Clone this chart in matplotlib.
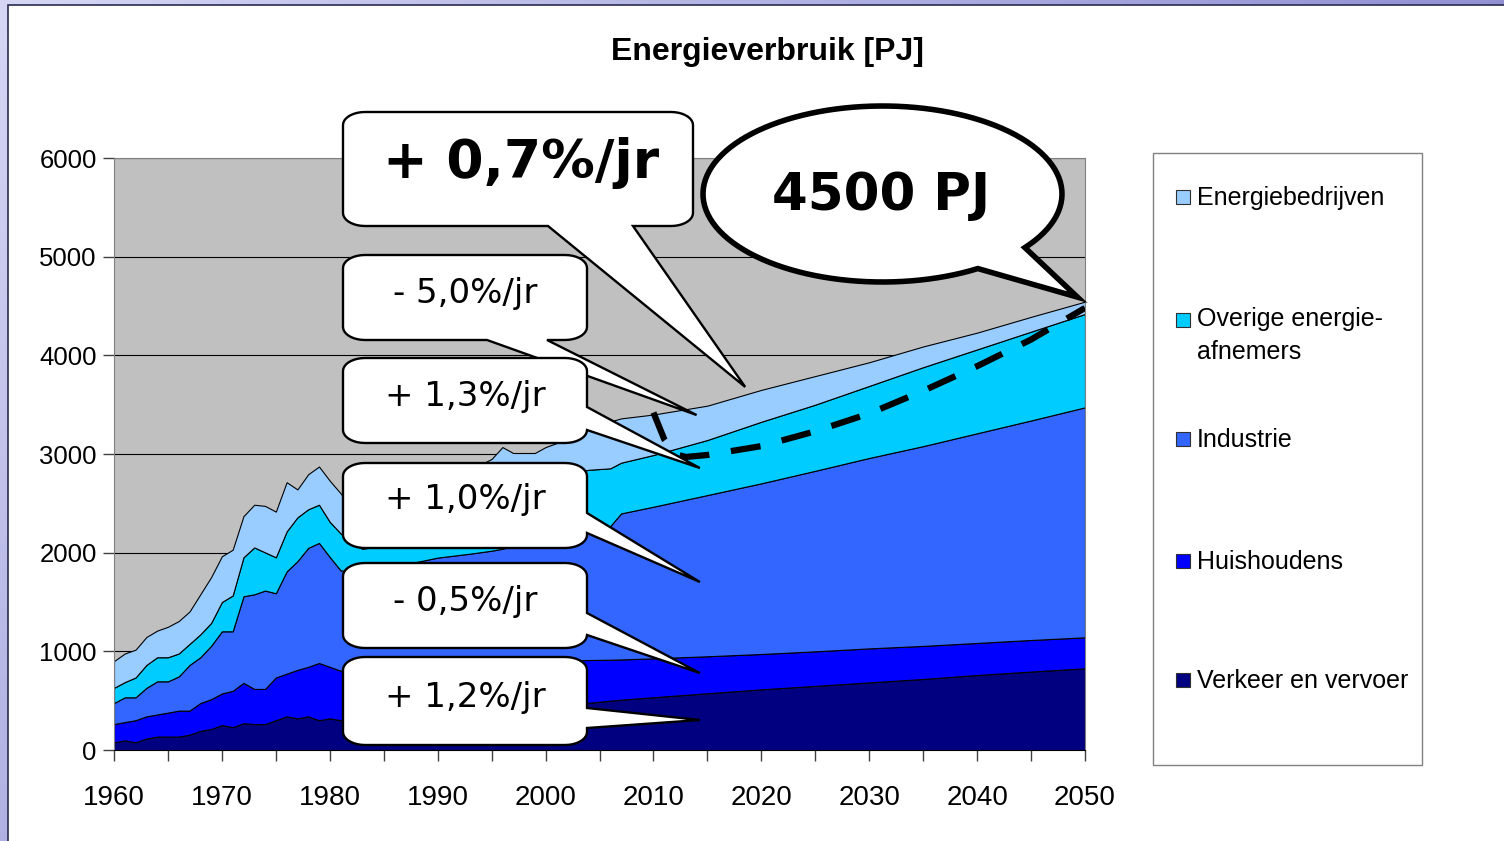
import numpy as np
import matplotlib.pyplot as plt
from matplotlib.patches import Rectangle, Polygon

plt.rcParams['font.family'] = ['Liberation Sans', 'DejaVu Sans']

# energy use per sector, PJ (history up to ~2006, projection after)
years = [1960, 1961, 1962, 1963, 1964, 1965, 1966, 1967, 1968, 1969,
         1970, 1971, 1972, 1973, 1974, 1975, 1976, 1977, 1978, 1979,
         1980, 1981, 1982, 1983, 1985, 1988, 1990, 1993, 1995, 1996,
         1997, 1999, 2000, 2002, 2004, 2006, 2007, 2010, 2015, 2020,
         2025, 2030, 2035, 2040, 2045, 2050]
verkeer = [78, 97, 78, 116, 136, 136, 136, 155, 194, 213,
           252, 232, 271, 263, 263, 302, 341, 321, 341, 302,
           321, 302, 300, 305, 320, 345, 365, 395, 410, 420,
           425, 440, 445, 460, 478, 500, 510, 535, 575, 615,
           650, 685, 720, 760, 795, 828]
huishoudens = [185, 186, 224, 225, 224, 243, 263, 244, 282, 302,
               321, 368, 410, 356, 356, 433, 433, 491, 502, 580,
               522, 502, 500, 505, 520, 515, 505, 490, 485, 480,
               475, 465, 460, 450, 434, 415, 408, 394, 375, 358,
               350, 345, 335, 325, 320, 314]
industrie = [213, 251, 232, 289, 336, 317, 347, 463, 464, 541,
             630, 603, 877, 959, 997, 854, 1036, 1102, 1206, 1217,
             1113, 1017, 1010, 1020, 1060, 1045, 1080, 1105, 1125, 1140,
             1170, 1215, 1245, 1290, 1348, 1355, 1480, 1537, 1634, 1730,
             1830, 1930, 2025, 2125, 2225, 2331]
overige = [154, 154, 201, 232, 244, 244, 232, 213, 232, 232,
           297, 363, 395, 475, 387, 364, 405, 444, 391, 387,
           356, 375, 290, 210, 170, 215, 250, 360, 430, 480,
           510, 560, 570, 600, 580, 585, 514, 524, 558, 624,
           670, 730, 800, 850, 900, 946]
energiebedrijven = [271, 290, 282, 283, 270, 309, 329, 329, 406, 464,
                    464, 464, 417, 433, 471, 463, 499, 283, 355, 387,
                    417, 406, 350, 340, 380, 440, 480, 490, 500, 550,
                    430, 330, 350, 350, 410, 475, 449, 410, 348, 323,
                    290, 240, 210, 170, 150, 125]

labels = ['Verkeer en vervoer', 'Huishoudens', 'Industrie',
          'Overige energie-\nafnemers', 'Energiebedrijven']
colors = ['#000080', '#0000FF', '#3366FF', '#00CCFF', '#99CCFF']

# reduction path towards 4500 PJ
scen_years = [2010, 2011, 2012, 2013, 2015, 2020, 2025, 2030, 2035, 2040, 2045, 2050]
scen_total = [3420, 3150, 3000, 2970, 2990, 3080, 3230, 3410, 3640, 3890, 4160, 4480]

W, H = 1504, 841
fig = plt.figure(figsize=(W / 100, H / 100), dpi=100)

# slide background with white chart sheet
bg = fig.add_axes([0, 0, 1, 1], zorder=-10)
gx, gy = np.meshgrid(np.linspace(0, 1, 300), np.linspace(0, 1, 200))
t = np.clip(0.65 * gx + 0.35 * gy, 0, 1)
c0 = np.array([0.84, 0.84, 0.96])
c1 = np.array([0.42, 0.42, 0.76])
bg.imshow(c0 + (c1 - c0) * t[..., None], extent=(0, W, H, 0), aspect='auto')
bg.set_xlim(0, W)
bg.set_ylim(H, 0)
bg.add_patch(Rectangle((8, 5), W, H, facecolor='white', edgecolor='#2a2a50', lw=1.2))
bg.axis('off')

ax = fig.add_axes([114 / W, 1 - 750 / H, 971 / W, 592 / H])
ax.set_facecolor('#C0C0C0')
ax.stackplot(years, verkeer, huishoudens, industrie, overige, energiebedrijven,
             colors=colors, labels=labels, edgecolor='black', linewidth=0.8)
ax.plot(scen_years, scen_total, color='black', lw=4.5,
        linestyle=(0, (4.8, 3.5)), dash_capstyle='butt', zorder=5)

ax.set_xlim(1960, 2050)
ax.set_ylim(0, 6000)
ax.set_xticks(range(1960, 2051, 10))
ax.set_xticks(range(1965, 2050, 10), minor=True)
ax.set_yticks(range(0, 6001, 1000))
ax.yaxis.grid(True, color='black', lw=0.8)
ax.set_axisbelow(True)
ax.tick_params(axis='x', which='both', length=8, width=1, color='#404040',
               labelsize=20, pad=17)
ax.tick_params(axis='y', length=8, width=1, color='#404040', labelsize=18.5, pad=4.5)
for side in ['left', 'top', 'right']:
    ax.spines[side].set_color('#808080')
ax.spines['bottom'].set_color('black')

fig.text(767 / W, 1 - 52 / H, 'Energieverbruik [PJ]', ha='center', va='center',
         fontsize=23, fontweight='bold')

# overlay in pixel units for callouts and legend
ov = fig.add_axes([0, 0, 1, 1], zorder=10)
ov.set_xlim(0, W)
ov.set_ylim(H, 0)
ov.axis('off')


def to_px(x, y):
    return ov.transData.inverted().transform(ax.transData.transform((x, y)))


def arc(cx, cy, rx, ry, a0, a1, n=10):
    a = np.radians(np.linspace(a0, a1, n))
    return list(zip(cx + rx * np.cos(a), cy + ry * np.sin(a)))


def callout(box, side, base, tip, text, size, weight='normal', tx=None, ty=None):
    x0, y0, x1, y1 = box
    rx, ry = 22, 13
    tip = tuple(to_px(*tip))
    pts = arc(x0 + rx, y0 + ry, rx, ry, 180, 270)
    pts += arc(x1 - rx, y0 + ry, rx, ry, 270, 360)
    if side == 'right':
        pts += [(x1, base[0]), tip, (x1, base[1])]
    pts += arc(x1 - rx, y1 - ry, rx, ry, 0, 90)
    if side == 'bottom':
        pts += [(base[1], y1), tip, (base[0], y1)]
    pts += arc(x0 + rx, y1 - ry, rx, ry, 90, 180)
    ov.add_patch(Polygon(pts, closed=True, facecolor='white', edgecolor='black',
                         lw=1.7, joinstyle='miter'))
    ov.text(tx, ty, text, ha='center', va='center', fontsize=size,
            fontweight=weight, family='DejaVu Sans')


callout((343, 112, 693, 226), 'bottom', (548, 633), (2018.5, 3680),
        '+ 0,7%/jr', 38.5, 'bold', 521, 163)
callout((343, 255, 587, 340), 'bottom', (487, 547), (2014.0, 3395),
        '- 5,0%/jr', 24.5, tx=465, ty=293)
callout((343, 358, 587, 443), 'right', (407, 430), (2014.3, 2858),
        '+ 1,3%/jr', 24.5, tx=465, ty=396)
callout((343, 463, 587, 548), 'right', (513, 533), (2014.3, 1703),
        '+ 1,0%/jr', 24.5, tx=465, ty=500)
callout((343, 563, 587, 648), 'right', (613, 635), (2014.3, 780),
        '- 0,5%/jr', 24.5, tx=465, ty=602)
callout((343, 657, 587, 745), 'right', (708, 728), (2014.3, 304),
        '+ 1,2%/jr', 24.5, tx=465, ty=697)

# speech bubble for the 2050 total
cx, cy, a, b = 882.5, 194, 179.5, 88
a0 = np.degrees(np.arctan2((264 - cy) / b, (972 - cx) / a))
a1 = np.degrees(np.arctan2((245 - cy) / b, (1018 - cx) / a)) + 360
pts = arc(cx, cy, a, b, a0, a1, 120) + [tuple(to_px(2049.3, 4590))]
ov.add_patch(Polygon(pts, closed=True, facecolor='white', edgecolor='black',
                     lw=4, joinstyle='miter'))
ov.text(881, 196, '4500 PJ', ha='center', va='center', fontsize=37,
        fontweight='bold', family='DejaVu Sans')

# legend
ov.add_patch(Rectangle((1153, 153), 269, 612, facecolor='white',
                       edgecolor='#808080', lw=1))
handles, names = ax.get_legend_handles_labels()
rows = [197, 320, 439, 561, 680]
for yc, h, name in zip(rows, handles[::-1], names[::-1]):
    ov.add_patch(Rectangle((1176, yc - 7), 14, 14, facecolor=h.get_facecolor(),
                           edgecolor='#303030', lw=0.8))
    if '\n' in name:
        ov.text(1197, yc - 13, name, ha='left', va='top', fontsize=18,
                linespacing=1.45)
    else:
        ov.text(1197, yc + 1, name, ha='left', va='center', fontsize=18)

fig.savefig('out.png', dpi=100)
